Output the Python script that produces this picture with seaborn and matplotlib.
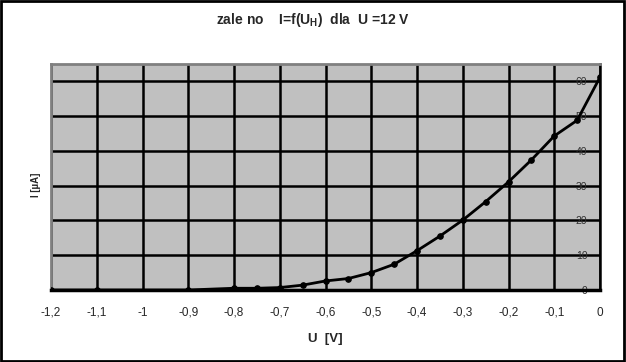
import numpy as np
import pandas as pd
import seaborn as sns
import matplotlib.pyplot as plt
from matplotlib.ticker import FuncFormatter

u_volts = [-1.2, -1.1, -0.9, -0.8, -0.75, -0.7, -0.65, -0.6, -0.55, -0.5,
           -0.45, -0.4, -0.35, -0.3, -0.25, -0.2, -0.15, -0.1, -0.05, 0.0]
i_current = [0.0, 0.0, 0.0, 0.5, 0.5, 0.7, 1.4, 2.6, 3.3, 5.0,
             7.4, 11.3, 15.5, 20.1, 25.4, 31.1, 37.4, 44.3, 48.8, 61.2]

x_ticks = [-1.2, -1.1, -1.0, -0.9, -0.8, -0.7, -0.6, -0.5, -0.4, -0.3, -0.2, -0.1, 0.0]
y_ticks = [0, 10, 20, 30, 40, 50, 60]

df = pd.DataFrame({'U': u_volts, 'I': i_current})

sns.set_style('white')
plt.rcParams['font.family'] = ['Liberation Sans', 'DejaVu Sans']

fig = plt.figure(figsize=(6.26, 3.62), dpi=100)
ax = fig.add_axes([51 / 626, 72 / 362, 549 / 626, 226 / 362])
ax.set_facecolor('#c0c0c0')

sns.lineplot(data=df, x='U', y='I', ax=ax, color='black', linewidth=2,
             marker='o', markersize=4, markeredgecolor='black', zorder=3)

ax.set_xlim(-1.2, 0.0)
ax.set_ylim(0, 65)
ax.set_xticks(x_ticks)
ax.set_yticks(y_ticks)
ax.xaxis.set_major_formatter(FuncFormatter(lambda v, p: ('%g' % round(v, 1)).replace('.', ',')))

# grid
ax.set_axisbelow(True)
ax.grid(True, color='black', linewidth=1.8)

# spines
ax.spines['left'].set_color('#808080')
ax.spines['left'].set_linewidth(2)
ax.spines['top'].set_color('#808080')
ax.spines['top'].set_linewidth(2)
ax.spines['right'].set_color('black')
ax.spines['right'].set_linewidth(1.8)
ax.spines['bottom'].set_color('black')
ax.spines['bottom'].set_linewidth(2.5)

ax.tick_params(axis='x', direction='out', length=5, width=1.5, color='black',
               labelsize=8.5, pad=7)
# y labels sit inside the plot, next to the right edge
ax.yaxis.tick_right()
ax.tick_params(axis='y', length=0, labelsize=7.5, labelcolor='#303030', pad=-9)
for lab in ax.get_yticklabels():
    lab.set_ha('right')

ax.set_xlabel('U  [V]', fontsize=9.5, fontweight='bold', labelpad=10)
ax.set_ylabel('')

fig.text(0.5, 1 - 20 / 362, r'zale no    I=f(U$_\mathregular{H}$)  dla  U =12 V',
         ha='center', va='center', fontsize=10, fontweight='bold')
fig.text(36 / 626, 1 - 185 / 362, 'I [µA]', rotation=90, ha='center', va='center',
         fontsize=7, fontweight='bold')

# outer frame
fig.add_artist(plt.Rectangle((0.002, 0.003), 0.995, 0.994, transform=fig.transFigure,
                             fill=False, edgecolor='black', linewidth=2))

fig.savefig('out.png', dpi=100)
